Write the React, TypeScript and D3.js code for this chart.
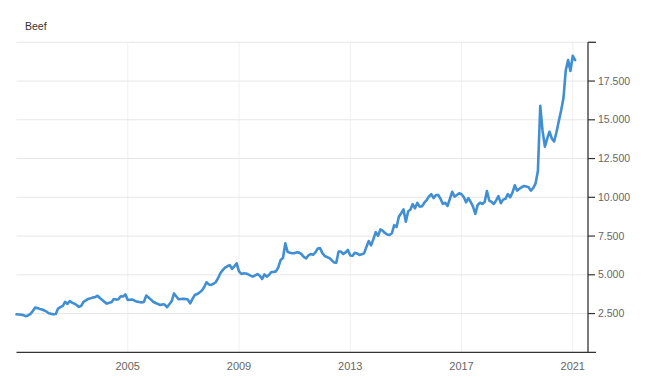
import React from "react";
import * as d3 from "d3";

const title = "Beef";
const startYear = 2001;
// monthly values, Jan 2001 .. Feb 2021
const values2001 = [2450, 2440, 2420, 2400, 2330, 2380, 2460, 2650, 2880, 2860, 2800, 2770];
const values2002 = [2700, 2620, 2520, 2480, 2450, 2470, 2820, 2920, 3000, 3260, 3120, 3300];
const values2003 = [3200, 3140, 3050, 2930, 3000, 3260, 3350, 3440, 3480, 3530, 3560, 3650];
const values2004 = [3500, 3380, 3250, 3140, 3200, 3230, 3440, 3400, 3420, 3620, 3600, 3740];
const values2005 = [3370, 3390, 3410, 3330, 3270, 3240, 3220, 3250, 3660, 3540, 3400, 3260];
const values2006 = [3180, 3120, 3050, 3090, 3080, 2910, 3100, 3300, 3800, 3600, 3420, 3440];
const values2007 = [3460, 3440, 3400, 3160, 3450, 3700, 3760, 3850, 3980, 4200, 4520, 4380];
const values2008 = [4350, 4420, 4520, 4780, 5100, 5300, 5460, 5550, 5630, 5380, 5550, 5740];
const values2009 = [5220, 5060, 5090, 5080, 5030, 4950, 4880, 4960, 5050, 4940, 4730, 5030];
const values2010 = [4880, 5000, 5180, 5190, 5220, 5480, 5950, 6080, 7030, 6480, 6420, 6390];
const values2011 = [6400, 6460, 6430, 6330, 6150, 6060, 6250, 6340, 6290, 6450, 6700, 6720];
const values2012 = [6400, 6210, 6150, 6080, 5950, 5800, 5780, 6500, 6500, 6340, 6450, 6600];
const values2013 = [6250, 6230, 6420, 6380, 6280, 6320, 6380, 6800, 7180, 6900, 7300, 7750];
const values2014 = [7520, 7930, 7850, 7700, 7600, 7570, 7680, 8200, 8080, 8750, 8970, 9220];
const values2015 = [8430, 9100, 9200, 9560, 9290, 9640, 9400, 9420, 9650, 9820, 10050, 10200];
const values2016 = [9950, 10150, 10150, 9900, 9570, 9650, 9440, 9900, 10360, 10040, 10150, 10260];
const values2017 = [10200, 10000, 9680, 9950, 9700, 9400, 8930, 9500, 9650, 9570, 9700, 10400];
const values2018 = [9780, 9700, 9570, 9800, 10080, 9620, 9850, 9900, 10210, 10000, 10300, 10770];
const values2019 = [10430, 10550, 10650, 10730, 10700, 10650, 10430, 10600, 10900, 11700, 15900, 14300];
const values2020 = [13270, 13800, 14230, 13800, 13600, 14200, 14900, 15600, 16400, 18200, 18850, 18150];
const values2021 = [19130, 18850];

const yTicks = [2500, 5000, 7500, 10000, 12500, 15000, 17500];
const yGrid = [2500, 5000, 7500, 10000, 12500, 15000, 17500, 20000];
const xTickYears = [2005, 2009, 2013, 2017, 2021];

const allValues = [
  ...values2001, ...values2002, ...values2003, ...values2004, ...values2005,
  ...values2006, ...values2007, ...values2008, ...values2009, ...values2010,
  ...values2011, ...values2012, ...values2013, ...values2014, ...values2015,
  ...values2016, ...values2017, ...values2018, ...values2019, ...values2020,
  ...values2021,
];
const data = allValues.map((v, i) => ({ date: new Date(startYear, i, 1), value: v }));

export default function App() {
  const W = 655, H = 378;
  const left = 16.5, right = 588, top = 42.3, bottom = 352.3;
  const x = d3.scaleTime().domain([new Date(2001, 0, 1), new Date(2021, 6, 20)]).range([left, right]);
  const y = d3.scaleLinear().domain([0, 20000]).range([bottom, top]);
  const line = d3.line<{ date: Date; value: number }>().x(d => x(d.date)).y(d => y(d.value));
  const font = "Arial, 'Liberation Sans', Helvetica, sans-serif";
  return (
    <svg width={W} height={H} style={{ position: "absolute", left: 0, top: 0, background: "#fff" }} fontFamily={font}>
      <text x={25} y={29.5} fontSize={10.5} fill="#333">{title}</text>
      {xTickYears.map(yr => (
        <line key={"vx" + yr} x1={x(new Date(yr, 0, 1))} x2={x(new Date(yr, 0, 1))} y1={top} y2={bottom} stroke="#f0f0f0" strokeWidth={1} />
      ))}
      {yGrid.map(v => (
        <line key={"hy" + v} x1={left} x2={right} y1={y(v)} y2={y(v)} stroke="#e6e6e6" strokeWidth={1} />
      ))}
      <path d={line(data) || ""} fill="none" stroke="#418fd3" strokeWidth={2.6} strokeLinejoin="round" strokeLinecap="round" />
      <line x1={left} x2={596} y1={bottom} y2={bottom} stroke="#333" strokeWidth={1.3} />
      <line x1={right} x2={right} y1={top} y2={bottom} stroke="#333" strokeWidth={1.3} />
      <line x1={right} x2={596} y1={top} y2={top} stroke="#333" strokeWidth={1.3} />
      {yTicks.map(v => (
        <g key={"yt" + v}>
          <line x1={right} x2={595} y1={y(v)} y2={y(v)} stroke="#333" strokeWidth={1.2} />
          <text x={598} y={y(v)} dy="0.35em" fontSize={10.5} fill="#666">{d3.format(",")(v).replace(",", ".")}</text>
        </g>
      ))}
      {xTickYears.map(yr => (
        <text key={"xt" + yr} x={x(new Date(yr, 0, 1))} y={369.5} textAnchor="middle" fontSize={11} fill="#666">{yr}</text>
      ))}
    </svg>
  );
}
